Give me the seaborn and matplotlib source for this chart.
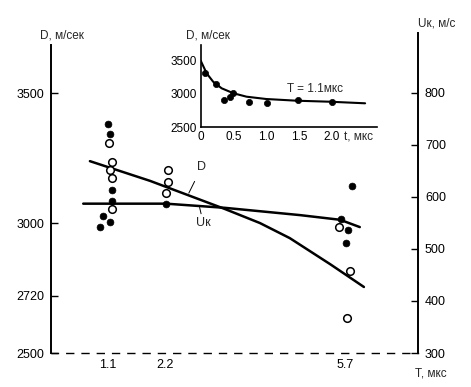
import matplotlib
matplotlib.use("Agg")
import matplotlib.pyplot as plt
import seaborn as sns
import pandas as pd

# ---------------- data ----------------
# main plot: open circles = D (left axis), filled = U_k (right axis)
T_open = [1.12, 1.18, 1.14, 1.18, 1.18, 2.27, 2.27, 2.23, 5.59, 5.80, 5.75]
D_open = [3308, 3235, 3204, 3173, 3054, 3204, 3158, 3115, 2985, 2815, 2635]

T_filled = [1.10, 1.14, 1.18, 1.18, 1.00, 1.14, 0.95, 2.23, 5.83, 5.62, 5.76, 5.72]
U_filled = [740, 721, 613, 592, 563, 552, 542, 587, 621, 558, 537, 512]

T_Dcurve = [0.75, 1.92, 3.37, 4.05, 4.63, 5.42, 6.07]
D_curve = [3238, 3162, 3054, 3000, 2942, 2841, 2754]

T_Ucurve = [0.62, 2.23, 3.37, 4.83, 5.61, 5.99]
U_curve = [587, 587, 579, 565, 556, 542]

x_ticks = [1.1, 2.2, 5.7]
x_ticklabels = ["1.1", "2.2", "5.7"]
left_ticks = [2500, 2720, 3000, 3500]
right_ticks = [300, 400, 500, 600, 700, 800]

# inset: D vs t at T = 1.1 мкс
t_pts = [0.07, 0.23, 0.35, 0.44, 0.49, 0.74, 1.01, 1.49, 2.00]
D_pts = [3323, 3147, 2909, 2950, 3011, 2883, 2868, 2909, 2883]
t_curve = [0.0, 0.09, 0.19, 0.32, 0.50, 0.70, 1.00, 1.47, 1.97, 2.51]
D_icurve = [3505, 3314, 3186, 3086, 3011, 2959, 2924, 2898, 2883, 2859]
inset_xticks = [0, 0.5, 1.0, 1.5, 2.0, 2.5]
inset_xticklabels = ["0", "0.5", "1.0", "1.5", "2.0", ""]
inset_yticks = [2500, 3000, 3500]

# ---------------- style ----------------
sns.set_style("white")
plt.rcParams["font.family"] = ["Liberation Sans", "DejaVu Sans"]
plt.rcParams["font.size"] = 9

W, H = 471, 387
fig = plt.figure(figsize=(W / 100, H / 100), dpi=100)

def fx(px):
    return px / W

def fy(py):
    return 1 - py / H

ax_left, ax_right, ax_bot, ax_top = 51.3, 418, 353, 33
ax = fig.add_axes([fx(ax_left), fy(ax_bot), fx(ax_right - ax_left), (ax_bot - ax_top) / H])
ax.set_facecolor("none")
ax2 = ax.twinx()

df_open = pd.DataFrame({"T": T_open, "D": D_open})
df_fill = pd.DataFrame({"T": T_filled, "U": U_filled})
df_dc = pd.DataFrame({"T": T_Dcurve, "D": D_curve})
df_uc = pd.DataFrame({"T": T_Ucurve, "U": U_curve})

sns.lineplot(data=df_dc, x="T", y="D", ax=ax, color="black", lw=1.8,
             estimator=None, sort=False, zorder=2)
sns.scatterplot(data=df_open, x="T", y="D", ax=ax, marker="o", s=30,
                facecolor="white", edgecolor="black", linewidth=1.1, zorder=4)
sns.lineplot(data=df_uc, x="T", y="U", ax=ax2, color="black", lw=1.8,
             estimator=None, sort=False, zorder=2)
sns.scatterplot(data=df_fill, x="T", y="U", ax=ax2, marker="o", s=24,
                color="black", edgecolor="black", linewidth=0.5, zorder=4)

ax.set_xlim(0, (ax_right - ax_left) / 51.5)
ax.set_ylim(2500, 3731)
ax2.set_ylim(300, 915)

ax.set_xlabel("")
ax.set_ylabel("")
ax2.set_ylabel("")

ax.set_xticks(x_ticks)
ax.set_xticklabels(x_ticklabels)
ax.set_yticks(left_ticks)
ax.set_yticklabels([str(v) for v in left_ticks])
ax2.set_yticks(right_ticks)
ax2.set_yticklabels([str(v) for v in right_ticks])

ax.tick_params(axis="both", direction="in", length=5, width=1, colors="black",
               labelsize=9, pad=4)
ax.tick_params(axis="y", pad=5)
ax2.tick_params(axis="y", direction="in", length=5, width=1, colors="black",
                labelsize=9, pad=5)

for s in ["top", "right"]:
    ax.spines[s].set_visible(False)
for s in ["top", "left", "bottom"]:
    ax2.spines[s].set_visible(False)
ax.spines["left"].set_color("black")
ax.spines["left"].set_linewidth(1.4)
ax.spines["left"].set_bounds(2500, 3685)
ax.spines["bottom"].set_color("black")
ax.spines["bottom"].set_linewidth(1.0)
ax.spines["bottom"].set_linestyle((0, (5, 6)))
ax2.spines["right"].set_color("black")
ax2.spines["right"].set_linewidth(1.4)

# curve labels with leaders
ax.annotate("D", xy=(2.67, 3115), xytext=(2.92, 3215), fontsize=9,
            ha="center", va="center",
            arrowprops=dict(arrowstyle="-", color="black", lw=0.7,
                            shrinkA=4, shrinkB=0))
ax.annotate("Uк", xy=(2.88, 3060), xytext=(2.95, 3000), fontsize=9,
            ha="center", va="center",
            arrowprops=dict(arrowstyle="-", color="black", lw=0.7,
                            shrinkA=6, shrinkB=0))

fig.text(fx(62), fy(35), "D, м/сек", ha="center", va="center", fontsize=8.5)
fig.text(fx(418), fy(23), "Uк, м/с", ha="left", va="center", fontsize=8.5)
fig.text(fx(431), fy(373), "T, мкс", ha="center", va="center", fontsize=8.5)

# ---------------- inset ----------------
il, ir, ib, it = 200.7, 377, 127, 45
axi = fig.add_axes([fx(il), fy(ib), fx(ir - il), (ib - it) / H])
axi.set_facecolor("none")
df_ip = pd.DataFrame({"t": t_pts, "D": D_pts})
df_ic = pd.DataFrame({"t": t_curve, "D": D_icurve})
sns.lineplot(data=df_ic, x="t", y="D", ax=axi, color="black", lw=1.5,
             estimator=None, sort=False, zorder=2)
sns.scatterplot(data=df_ip, x="t", y="D", ax=axi, marker="o", s=20,
                color="black", edgecolor="black", linewidth=0.5, zorder=3)
axi.set_xlim(0, (ir - il) / 65.5)
axi.set_ylim(2500, 3742)
axi.set_xticks(inset_xticks)
axi.set_xticklabels(inset_xticklabels)
axi.set_yticks(inset_yticks)
axi.set_yticklabels([str(v) for v in inset_yticks])
axi.set_xlabel("")
axi.set_ylabel("")
axi.tick_params(axis="both", direction="in", length=4, width=1, colors="black",
                labelsize=8.5, pad=3)
for s in ["top", "right"]:
    axi.spines[s].set_visible(False)
for s in ["left", "bottom"]:
    axi.spines[s].set_color("black")
    axi.spines[s].set_linewidth(1.2)
fig.text(fx(358), fy(137), "t, мкс", ha="center", va="center", fontsize=8.5)
axi.text(1.75, 3070, "T = 1.1мкс", ha="center", va="center", fontsize=8.5)
fig.text(fx(208), fy(35), "D, м/сек", ha="center", va="center", fontsize=8.5)

fig.savefig("out.png", dpi=100, facecolor="white")
